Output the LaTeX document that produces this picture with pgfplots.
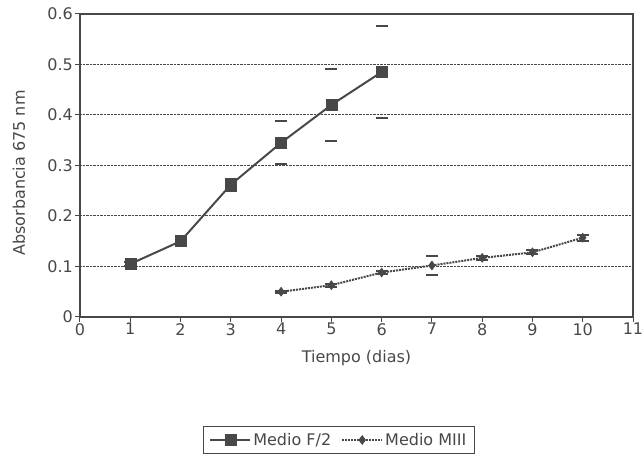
\documentclass[border=0pt]{standalone}
\usepackage{pgfplots}
\pgfplotsset{compat=1.18}
\usepackage{fontspec}
\setmainfont{DejaVu Sans}
\definecolor{ink}{HTML}{484848}
\begin{document}
\begin{tikzpicture}[x=1pt,y=1pt]
\begin{axis}[
  scale only axis, width=553pt, height=303pt,
  xmin=0, xmax=11, ymin=0, ymax=0.6,
  xtick={0,...,11}, ytick={0,0.1,...,0.6},
  yticklabel style={/pgf/number format/fixed, /pgf/number format/precision=1},
  /pgf/number format/assume math mode=true,
  tick align=outside, tick pos=left, major tick length=5pt,
  ymajorgrids, grid style={densely dotted, ink, line width=1pt},
  axis line style={ink, line width=1.2pt},
  every tick/.style={ink, line width=1pt},
  tick label style={font=\fontsize{16}{18}\selectfont, text=ink},
  xticklabel style={inner sep=1pt},
  yticklabel style={inner sep=2pt},
  label style={font=\fontsize{16}{18}\selectfont, text=ink},
  xlabel={Tiempo (dias)}, ylabel={Absorbancia 675 nm},
  xlabel style={at={(axis description cs:0.5,0)}, anchor=center, yshift=-41pt},
  ylabel style={at={(axis description cs:0,0.475)}, anchor=center, yshift=61pt},
  legend style={at={(axis description cs:0.468,-0.406)}, anchor=center,
    legend columns=2, draw=ink, line width=1pt, font=\fontsize{16}{18}\selectfont, text=ink,
    inner xsep=6pt, inner ysep=5pt,
    /tikz/every even column/.append style={column sep=8pt}},
  legend image code/.code={\draw[#1] (0pt,0pt) -- (40pt,0pt);
    \draw[#1, mark repeat=2, mark phase=2] plot coordinates {(0pt,0pt)(20pt,0pt)(40pt,0pt)};},
  legend cell align=left,
]
\coordinate (sw) at (rel axis cs:0,0);
\coordinate (ne) at (rel axis cs:1,1);
\addplot[ink, line width=2pt, mark=square*, mark size=5.5pt, mark options={solid, fill=ink, line width=0.5pt},
  error bars/.cd, y dir=both, y explicit,
  error mark options={rotate=90, mark size=6pt, line width=2pt, draw=ink, draw opacity=1},
  error bar style={draw opacity=0}]
coordinates {
 (1,0.105) +- (0,0.004)
 (2,0.150) +- (0,0.003)
 (3,0.262) +- (0,0.012)
 (4,0.345) +- (0,0.043)
 (5,0.420) +- (0,0.072)
 (6,0.485) +- (0,0.091)
};
\addlegendentry{Medio F/2}
\addplot[ink, densely dotted, line width=2pt, mark=diamond*, mark size=4.5pt, mark options={solid, fill=ink, line width=0.5pt},
  error bars/.cd, y dir=both, y explicit,
  error mark options={rotate=90, mark size=6pt, line width=2pt, draw=ink, draw opacity=1},
  error bar style={draw opacity=0}]
coordinates {
 (4,0.050) +- (0,0.002)
 (5,0.063) +- (0,0.003)
 (6,0.088) +- (0,0.003)
 (7,0.102) +- (0,0.018)
 (8,0.117) +- (0,0.004)
 (9,0.128) +- (0,0.004)
 (10,0.157) +- (0,0.006)
};
\addlegendentry{Medio MIII}
\end{axis}
\pgfresetboundingbox
\path ([shift={(-80pt,-149pt)}]sw) rectangle ([shift={(10pt,14pt)}]ne);
\end{tikzpicture}
\end{document}
